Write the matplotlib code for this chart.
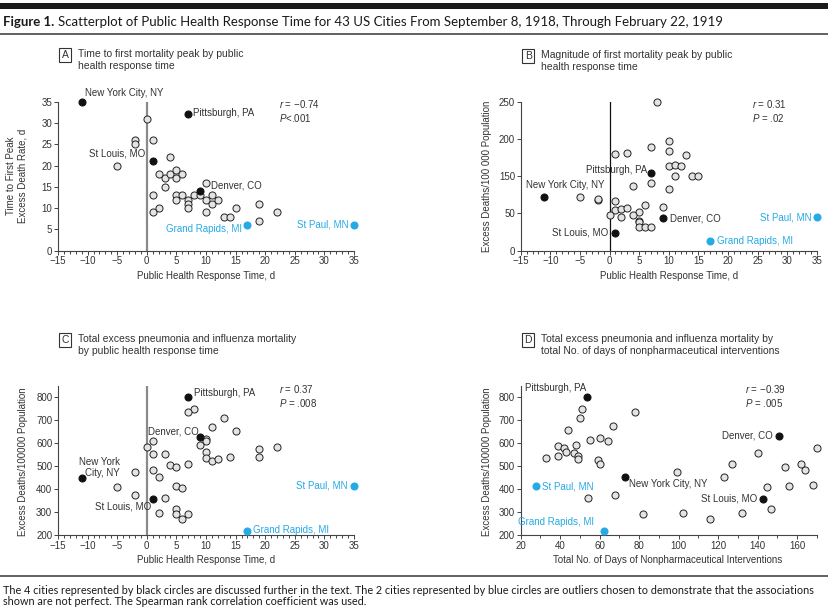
import matplotlib
matplotlib.use("Agg")
import matplotlib.pyplot as plt
from matplotlib.patches import Rectangle
from matplotlib.lines import Line2D
from matplotlib.ticker import MultipleLocator, FixedLocator

plt.rcParams["font.family"] = ["Liberation Sans", "DejaVu Sans"]
plt.rcParams["mathtext.fontset"] = "custom"
plt.rcParams["mathtext.it"] = "Liberation Sans:italic"
plt.rcParams["mathtext.rm"] = "Liberation Sans"

# --- data ---
black_names = ["New York City, NY", "Pittsburgh, PA", "St Louis, MO", "Denver, CO"]
blue_names = ["Grand Rapids, MI", "St Paul, MN"]

# A: time to first peak (d) vs response time (d)
a_x = [0, -2, -2, 1, -5, 4, 2, 3, 4, 5, 5, 6, 3, 1, 1, 2, 5, 5, 6, 7, 7, 7, 8, 9,
       10, 10, 10, 11, 11, 12, 13, 14, 15, 19, 19, 22]
a_y = [31, 26, 25, 26, 20, 22, 18, 17, 18, 19, 17, 18, 15, 13, 9, 10, 13, 12, 13, 12, 11, 10, 13, 13,
       16, 12, 9, 13, 11, 12, 8, 8, 10, 11, 7, 9]
a_black_x = [-11, 7, 1, 9]
a_black_y = [35, 32, 21, 14]
a_blue_x = [17, 35]
a_blue_y = [6, 6]

# B: magnitude of first peak vs response time
b_x = [8, 10, 7, 10, 1, 3, 13, 10, 11, 12, 11, 14, 15, 7, 4, 10, -5, -2, -2, 1, 6, 1, 2, 3,
       5, 9, 0, 2, 4, 5, 5, 5, 6, 7]
b_y = [250, 184, 174, 167, 163, 164, 161, 142, 144, 142, 125, 126, 126, 113, 108, 103, 90, 85, 87, 83, 76, 68, 70, 71,
       65, 73, 60, 56, 60, 50, 48, 39, 39, 39]
b_black_x = [-11, 7, 1, 9]
b_black_y = [90, 131, 30, 55]
b_blue_x = [17, 35]
b_blue_y = [16, 56]
b_ytick_pos = [0, 62.5, 125, 187.5, 250]
b_ytick_lab = ["0", "50", "150", "200", "250"]

# C: total excess P&I mortality vs response time
c_x = [8, 7, 13, 11, 15, 10, 10, 1, 0, 9, 19, 22, 1, 3, 10, 19, 14, 10, 11, 12, 4, 5, 7, -2,
       1, 2, -5, 5, 6, -2, 3, 5, 5, 2, 7, 6]
c_y = [749, 735, 710, 672, 655, 620, 609, 610, 583, 591, 575, 585, 555, 552, 561, 542, 542, 535, 523, 530, 507, 496, 509, 475,
       483, 454, 412, 416, 407, 377, 361, 314, 294, 297, 294, 271]
c_black_x = [-11, 7, 1, 9]
c_black_y = [451, 801, 359, 629]
c_blue_x = [17, 35]
c_blue_y = [217, 416]

# D: total excess P&I mortality vs days of NPI
d_x = [51, 50, 78, 44, 67, 39, 42, 48, 43, 47, 49, 49, 39, 33, 55, 60, 64, 59, 60, 140, 127, 123, 99, 154,
       162, 164, 170, 145, 156, 168, 147, 68, 54, 82, 102, 116, 132]
d_y = [749, 712, 735, 657, 674, 588, 578, 593, 561, 557, 545, 533, 543, 535, 613, 625, 612, 526, 510, 557, 509, 454, 475, 497,
       509, 485, 581, 409, 414, 417, 316, 377, 361, 293, 299, 271, 296]
d_black_x = [73, 53.5, 143, 151]
d_black_y = [452, 803, 359, 630]
d_blue_x = [62, 28]
d_blue_y = [217, 414]

W, H = 829, 615
DARK = "#333333"
BLUE = "#25aae6"
GRAY_FILL = "#e4e4e4"


def rect_px(left, top, right, bottom):
    return [left / W, 1 - bottom / H, (right - left) / W, (bottom - top) / H]


def draw_panel(ax, gx, gy, bx, by, ux, uy, black_lab, blue_lab, offs_black, offs_blue):
    ax.scatter(gx, gy, s=26, facecolor=GRAY_FILL, edgecolor="#222222", linewidth=0.7, zorder=3, clip_on=False)
    ax.scatter(bx, by, s=26, facecolor="#111111", edgecolor="#111111", linewidth=0.7, zorder=4, clip_on=False)
    ax.scatter(ux, uy, s=26, facecolor=BLUE, edgecolor=BLUE, linewidth=0.7, zorder=4, clip_on=False)
    for i in range(len(bx)):
        dx, dy, ha = offs_black[i]
        ax.annotate(black_lab[i], (bx[i], by[i]), xytext=(dx, dy), textcoords="offset pixels",
                    ha=ha, va="center", fontsize=7, color=DARK, multialignment=ha, linespacing=1.1,
                    annotation_clip=False)
    for i in range(len(ux)):
        dx, dy, ha = offs_blue[i]
        ax.annotate(blue_lab[i], (ux[i], uy[i]), xytext=(dx, dy), textcoords="offset pixels",
                    ha=ha, va="center", fontsize=7, color=BLUE, annotation_clip=False)
    for s in ["top", "right"]:
        ax.spines[s].set_visible(False)
    for s in ["left", "bottom"]:
        ax.spines[s].set_color("#444444")
        ax.spines[s].set_linewidth(0.8)
    ax.tick_params(which="both", direction="out", colors="#444444", labelcolor=DARK, labelsize=7, pad=1.5, width=0.7)
    ax.tick_params(which="major", length=2.6)
    ax.tick_params(which="minor", length=1.8)
    ax.patch.set_visible(False)


def panel_title(letter, text, left_px, top_px):
    fig.text((left_px + 7.5) / W, 1 - (top_px + 6.5) / H, letter, ha="center", va="center", fontsize=7.5, color=DARK,
             bbox=dict(boxstyle="square,pad=0.22", fc="white", ec="#333333", lw=0.8))
    fig.text((left_px + 20.5) / W, 1 - (top_px + 0.5) / H, text, ha="left", va="top", fontsize=7.5, color=DARK,
             linespacing=1.25)


def stats(ax, txt, xf, yf):
    ax.text(xf, yf, txt, transform=ax.transAxes, ha="left", va="center", fontsize=7, color=DARK, linespacing=1.25)


fig = plt.figure(figsize=(W / 100, H / 100), dpi=100)

# header / footer rules
fig.add_artist(Rectangle((0, 1 - 8.6 / H), 1, 5.3 / H, transform=fig.transFigure, color="#1a1a1a", lw=0))
fig.add_artist(Line2D([0, 1], [1 - 34.3 / H] * 2, transform=fig.transFigure, color="#555555", lw=1.3))
fig.add_artist(Line2D([0, 1], [1 - 576 / H] * 2, transform=fig.transFigure, color="#555555", lw=1.3))

t1 = fig.text(3 / W, 1 - 25.5 / H, "Figure 1.", fontsize=9.5, fontweight="bold", family=["Lato", "DejaVu Sans"],
              va="baseline", color="#1a1a1a")
fig.canvas.draw()
bb = t1.get_window_extent()
fig.text((bb.x1 + 3.5) / W, 1 - 25.5 / H,
         "Scatterplot of Public Health Response Time for 43 US Cities From September 8, 1918, Through February 22, 1919",
         fontsize=9.55, family=["Lato", "DejaVu Sans"], va="baseline", color="#1a1a1a")

fig.text(3 / W, 1 - 591 / H,
         "The 4 cities represented by black circles are discussed further in the text. The 2 cities represented by blue circles are outliers chosen to demonstrate that the associations",
         fontsize=7.8, family=["Lato", "DejaVu Sans"], va="center", color="#1a1a1a")
fig.text(3 / W, 1 - 601.5 / H,
         "shown are not perfect. The Spearman rank correlation coefficient was used.",
         fontsize=7.8, family=["Lato", "DejaVu Sans"], va="center", color="#1a1a1a")

# ---- panel A ----
axA = fig.add_axes(rect_px(58, 101.7, 354, 250.7))
axA.axvline(0, color="#8a8a8a", lw=1.6, zorder=1)
draw_panel(axA, a_x, a_y, a_black_x, a_black_y, a_blue_x, a_blue_y, black_names, blue_names,
           [(3, 8.4, "left"), (5, 1.2, "left"), (-7.7, 8, "right"), (10.6, 5.4, "left")],
           [(-5, -4.1, "right"), (-5.7, 0.9, "right")])
axA.set_xlim(-15, 35)
axA.set_ylim(0, 35)
axA.xaxis.set_major_locator(MultipleLocator(5))
axA.xaxis.set_minor_locator(MultipleLocator(1))
axA.yaxis.set_major_locator(MultipleLocator(5))
axA.set_xlabel("Public Health Response Time, d", fontsize=7, color=DARK)
axA.set_ylabel("Time to First Peak\nExcess Death Rate, d", fontsize=7, color=DARK, linespacing=1.2)
axA.xaxis.set_label_coords(0.5, -0.168)
axA.yaxis.set_label_coords(-0.14, 0.5)
axA.xaxis.label.set_va("center")
axA.yaxis.label.set_va("center")
stats(axA, "$r$ = \u22120.74\n$P$<.001", 0.748, 0.939)
panel_title("A", "Time to first mortality peak by public\nhealth response time", 57.5, 48.3)

# ---- panel B ----
axB = fig.add_axes(rect_px(520.7, 101.7, 816.7, 250.7))
axB.axvline(0, color="#111111", lw=0.9, zorder=1)
draw_panel(axB, b_x, b_y, b_black_x, b_black_y, b_blue_x, b_blue_y, black_names, blue_names,
           [(-18.4, 11.6, "left"), (-4, 2.3, "right"), (-7, 0.3, "right"), (7.4, -1, "left")],
           [(6.7, 0, "left"), (-5.7, 0, "right")])
axB.set_xlim(-15, 35)
axB.set_ylim(0, 250)
axB.xaxis.set_major_locator(MultipleLocator(5))
axB.xaxis.set_minor_locator(MultipleLocator(1))
axB.yaxis.set_major_locator(FixedLocator(b_ytick_pos))
axB.set_yticklabels(b_ytick_lab)
axB.set_xlabel("Public Health Response Time, d", fontsize=7, color=DARK)
axB.set_ylabel("Excess Deaths/100 000 Population", fontsize=7, color=DARK)
axB.xaxis.set_label_coords(0.5, -0.168)
axB.yaxis.set_label_coords(-0.115, 0.5)
axB.xaxis.label.set_va("center")
axB.yaxis.label.set_va("center")
stats(axB, "$r$ = 0.31\n$P$ = .02", 0.780, 0.939)
panel_title("B", "Magnitude of first mortality peak by public\nhealth response time", 520.7, 49.3)

# ---- panel C ----
axC = fig.add_axes(rect_px(58, 385.8, 354, 535.3))
axC.axvline(0, color="#8a8a8a", lw=1.6, zorder=1)
c_black_names = ["New York\nCity, NY"] + black_names[1:]
draw_panel(axC, c_x, c_y, c_black_x, c_black_y, c_blue_x, c_blue_y, c_black_names, blue_names,
           [(38.3, 9.9, "right"), (6, 4.4, "left"), (-1, -7.3, "right"), (-1.4, 5, "right")],
           [(6, 1.4, "left"), (-6.3, 0, "right")])
axC.set_xlim(-15, 35)
axC.set_ylim(200, 850)
axC.xaxis.set_major_locator(MultipleLocator(5))
axC.xaxis.set_minor_locator(MultipleLocator(1))
axC.yaxis.set_major_locator(FixedLocator(range(200, 801, 100)))
axC.set_xlabel("Public Health Response Time, d", fontsize=7, color=DARK)
axC.set_ylabel("Excess Deaths/100000 Population", fontsize=7, color=DARK)
axC.xaxis.set_label_coords(0.5, -0.165)
axC.yaxis.set_label_coords(-0.117, 0.49)
axC.xaxis.label.set_va("center")
axC.yaxis.label.set_va("center")
stats(axC, "$r$ = 0.37\n$P$ = .008", 0.748, 0.933)
panel_title("C", "Total excess pneumonia and influenza mortality\nby public health response time", 57.5, 333.3)

# ---- panel D ----
axD = fig.add_axes(rect_px(520.7, 385.8, 816.7, 535.3))
draw_panel(axD, d_x, d_y, d_black_x, d_black_y, d_blue_x, d_blue_y, black_names, blue_names,
           [(3.7, -6.4, "left"), (-1, 9, "right"), (-6, 0, "right"), (-6, 0.7, "right")],
           [(-9.4, 9, "right"), (5.6, 0, "left")])
axD.set_xlim(20, 170)
axD.set_ylim(200, 850)
axD.xaxis.set_major_locator(FixedLocator(range(20, 161, 20)))
axD.xaxis.set_minor_locator(MultipleLocator(10))
axD.yaxis.set_major_locator(FixedLocator(range(200, 801, 100)))
axD.set_xlabel("Total No. of Days of Nonpharmaceutical Interventions", fontsize=7, color=DARK)
axD.set_ylabel("Excess Deaths/100000 Population", fontsize=7, color=DARK)
axD.xaxis.set_label_coords(0.495, -0.165)
axD.yaxis.set_label_coords(-0.115, 0.49)
axD.xaxis.label.set_va("center")
axD.yaxis.label.set_va("center")
stats(axD, "$r$ = \u22120.39\n$P$ = .005", 0.758, 0.933)
panel_title("D", "Total excess pneumonia and influenza mortality by\ntotal No. of days of nonpharmaceutical interventions", 520.7, 333.3)

fig.savefig("out.png", dpi=100)
